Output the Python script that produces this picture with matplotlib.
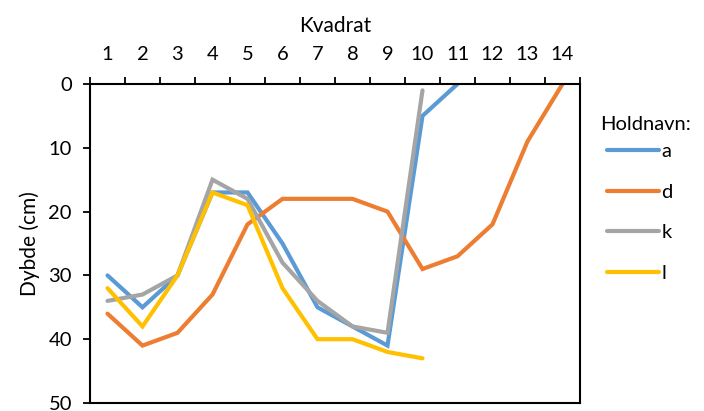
import matplotlib
matplotlib.use("Agg")
import matplotlib.pyplot as plt
import numpy as np

plt.rcParams['font.family'] = ['Lato', 'DejaVu Sans']

kvadrat = list(range(1, 15))
series_names = ['a', 'd', 'k', 'l']
a_vals = [30, 35, 30, 17, 17, 25, 35, 38, 41, 5, 0]
d_vals = [36, 41, 39, 33, 22, 18, 18, 18, 20, 29, 27, 22, 9, 0]
k_vals = [34, 33, 30, 15, 18, 28, 34, 38, 39, 1]
l_vals = [32, 38, 30, 17, 19, 32, 40, 40, 42, 43]
y_ticks = [0, 10, 20, 30, 40, 50]

colors = ['#5B9BD5', '#ED7D31', '#A5A5A5', '#FFC000']

fig = plt.figure(figsize=(7.04, 4.11), dpi=100)
ax = fig.add_axes([90/704, 1-403/411, 490/704, (403-84)/411])

for name, vals, c in zip(series_names, [a_vals, d_vals, k_vals, l_vals], colors):
    ax.plot(kvadrat[:len(vals)], vals, color=c, lw=3, label=name,
            solid_capstyle='round', solid_joinstyle='miter')

ax.set_xlim(0.5, 14.5)
ax.set_ylim(50, 0)
ax.xaxis.tick_top()
ax.xaxis.set_label_position('top')
ax.set_xticks(np.arange(0.5, 15, 1))
ax.set_xticklabels([])
ax.set_xticks(kvadrat, minor=True)
ax.set_xticklabels([str(k) for k in kvadrat], minor=True)
ax.tick_params(axis='x', which='major', length=5, width=1.3, direction='out')
ax.tick_params(axis='x', which='minor', length=0, labelsize=14.5, pad=15)
ax.set_yticks(y_ticks)
ax.tick_params(axis='y', length=5, width=1.3, direction='out', labelsize=14.5, pad=8)
for s in ax.spines.values():
    s.set_linewidth(1.5)
    s.set_color('black')

ax.set_xlabel('Kvadrat', fontsize=15, labelpad=10)
ax.set_ylabel('Dybde (cm)', fontsize=15, labelpad=6)

fig.text(600/704, 1-125/411, 'Holdnavn:', fontsize=14.5, ha='left', va='center')
leg = ax.legend(loc='upper left', bbox_to_anchor=(603/704, 1-139/411),
                bbox_transform=fig.transFigure, frameon=False, fontsize=14.5,
                handlelength=2.6, handletextpad=0.1, labelspacing=1.17,
                borderpad=0.2, borderaxespad=0)

fig.savefig('out.png', dpi=100)
